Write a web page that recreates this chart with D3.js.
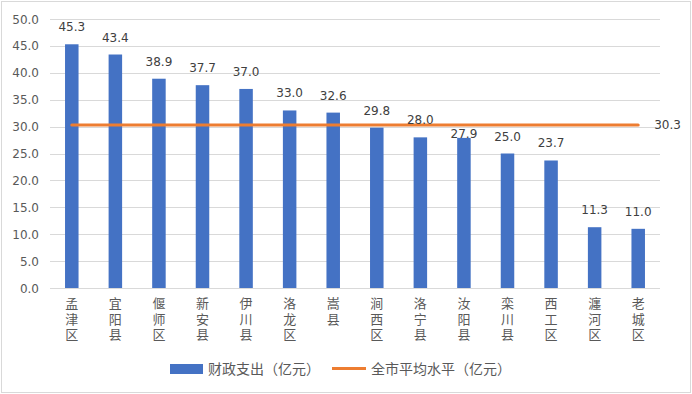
<!DOCTYPE html>
<html>
<head>
<meta charset="utf-8">
<script src="https://cdn.jsdelivr.net/npm/d3@7"></script>
<style>
  body { margin: 0; background: #fff; }
  svg { display: block; }
</style>
</head>
<body>
<svg id="chart" width="692" height="394"></svg>
<script>
// data
const regions = ["孟津区", "宜阳县", "偃师区", "新安县", "伊川县", "洛龙区", "嵩县",
  "涧西区", "洛宁县", "汝阳县", "栾川县", "西工区", "瀍河区", "老城区"];
const spending = [45.3, 43.4, 38.9, 37.7, 37.0, 33.0, 32.6, 29.8, 28.0, 27.9, 25.0, 23.7, 11.3, 11.0];
const cityAverage = 30.3;
const yTicks = [0, 5, 10, 15, 20, 25, 30, 35, 40, 45, 50];
const seriesNames = ["财政支出（亿元）", "全市平均水平（亿元）"];

const svg = d3.select("#chart");
const W = 692, H = 394;
const plotL = 50, plotR = 660, plotT = 19, plotB = 288;
const numFont = "'DejaVu Sans', sans-serif";
const cjkFont = "'Noto Sans CJK SC', sans-serif";

// outer border
svg.append("rect")
  .attr("x", 1.5).attr("y", 1.5)
  .attr("width", W - 3).attr("height", H - 3)
  .attr("fill", "#fff").attr("stroke", "#d9d9d9");

const x = d3.scaleBand().domain(regions).range([plotL, plotR]).paddingInner(0.69).paddingOuter(0.345);
const y = d3.scaleLinear().domain([0, 50]).range([plotB, plotT]);

// gridlines
svg.append("g").selectAll("line")
  .data(yTicks)
  .enter().append("line")
  .attr("x1", plotL).attr("x2", plotR)
  .attr("y1", d => Math.round(y(d)) + 0.5)
  .attr("y2", d => Math.round(y(d)) + 0.5)
  .attr("stroke", "#d9d9d9").attr("stroke-width", 1);

// y axis labels
svg.append("g").selectAll("text")
  .data(yTicks)
  .enter().append("text")
  .attr("x", 39)
  .attr("y", d => y(d) + 4.5)
  .attr("text-anchor", "end")
  .attr("font-family", numFont)
  .attr("font-size", 12)
  .attr("fill", "#595959")
  .text(d => d.toFixed(1));

// bars
svg.append("g").selectAll("rect")
  .data(spending)
  .enter().append("rect")
  .attr("x", (d, i) => x(regions[i]))
  .attr("y", d => y(d))
  .attr("width", x.bandwidth())
  .attr("height", d => y(0) - y(d))
  .attr("fill", "#4472c4");

// average line through category centres
const avgLine = d3.line()
  .x(d => x(d) + x.bandwidth() / 2)
  .y(() => y(cityAverage));
svg.append("path")
  .datum(regions)
  .attr("d", avgLine)
  .attr("fill", "none")
  .attr("stroke", "#ed7d31")
  .attr("stroke-width", 3)
  .attr("stroke-linecap", "round");

svg.append("text")
  .attr("x", x(regions[regions.length - 1]) + x.bandwidth() / 2 + 16)
  .attr("y", y(cityAverage) + 4.5)
  .attr("font-family", numFont)
  .attr("font-size", 12)
  .attr("fill", "#404040")
  .text(cityAverage.toFixed(1));

// bar labels (Excel pushed the 27.9 label down under the line)
svg.append("g").selectAll("text")
  .data(spending)
  .enter().append("text")
  .attr("x", (d, i) => x(regions[i]) + x.bandwidth() / 2)
  .attr("y", (d, i) => i === 9 ? y(d) + 0 : y(d) - 13)
  .attr("text-anchor", "middle")
  .attr("font-family", numFont)
  .attr("font-size", 12)
  .attr("fill", "#404040")
  .text(d => d.toFixed(1));

// x axis line
svg.append("line")
  .attr("x1", plotL).attr("x2", plotR)
  .attr("y1", Math.round(y(0)) + 0.5).attr("y2", Math.round(y(0)) + 0.5)
  .attr("stroke", "#d9d9d9");

// vertical category labels (stacked characters)
svg.append("g").selectAll("text")
  .data(regions)
  .enter().append("text")
  .attr("x", d => x(d) + x.bandwidth() / 2)
  .attr("y", 297)
  .style("writing-mode", "vertical-rl")
  .style("text-orientation", "upright")
  .style("letter-spacing", "2.5px")
  .attr("font-family", cjkFont)
  .attr("font-size", 13)
  .attr("fill", "#595959")
  .text(d => d);

// legend
const lg = svg.append("g");
lg.append("rect")
  .attr("x", 170).attr("y", 364)
  .attr("width", 33).attr("height", 10)
  .attr("fill", "#4472c4");
lg.append("text")
  .attr("x", 208).attr("y", 374)
  .attr("font-family", cjkFont)
  .attr("font-size", 14)
  .attr("fill", "#595959")
  .text(seriesNames[0]);
lg.append("line")
  .attr("x1", 332).attr("x2", 366)
  .attr("y1", 368.5).attr("y2", 368.5)
  .attr("stroke", "#ed7d31").attr("stroke-width", 3);
lg.append("text")
  .attr("x", 371).attr("y", 374)
  .attr("font-family", cjkFont)
  .attr("font-size", 14)
  .attr("fill", "#595959")
  .text(seriesNames[1]);
</script>
</body>
</html>
